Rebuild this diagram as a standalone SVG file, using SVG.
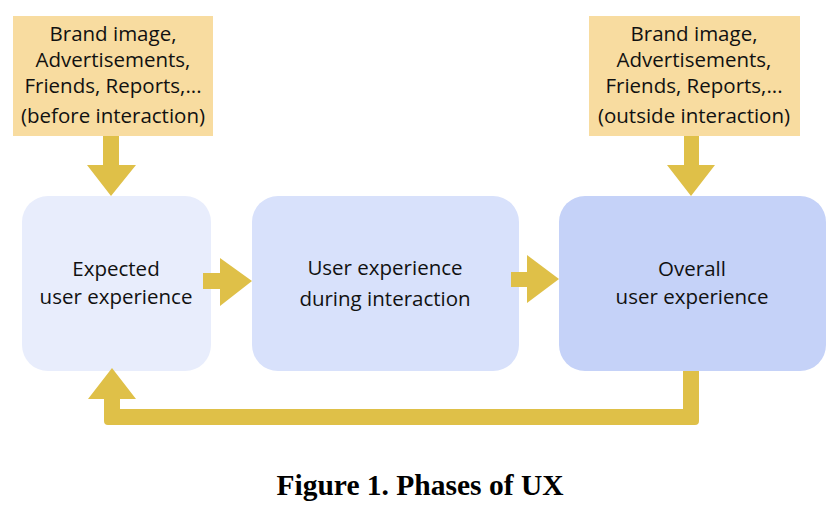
<svg xmlns="http://www.w3.org/2000/svg" width="840" height="512" viewBox="0 0 840 512">
<style>
.src{fill:#f8dca0}
.lbl{font-family:"Open Sans","DejaVu Sans",sans-serif;font-size:20.5px;fill:#111;text-anchor:middle}
.arr{fill:#dfc048}
.cap{font-family:"Liberation Serif",serif;font-weight:bold;font-size:29.5px;fill:#000;text-anchor:middle}
</style>
<rect width="840" height="512" fill="#fff"/>
<g id="src-before">
<rect class="src" x="13" y="16" width="200" height="120"/>
<text class="lbl" x="113" y="41">Brand image,</text>
<text class="lbl" x="113" y="67">Advertisements,</text>
<text class="lbl" x="113" y="93">Friends, Reports,...</text>
<text class="lbl" x="113" y="123">(before interaction)</text>
</g>
<g id="src-outside">
<rect class="src" x="589" y="16" width="211" height="120"/>
<text class="lbl" x="694" y="41">Brand image,</text>
<text class="lbl" x="694" y="67">Advertisements,</text>
<text class="lbl" x="694" y="93">Friends, Reports,...</text>
<text class="lbl" x="694" y="123">(outside interaction)</text>
</g>
<g id="expected">
<rect x="22" y="196" width="189" height="175" rx="26" fill="#e8edfc"/>
<text class="lbl" x="116" y="276">Expected</text>
<text class="lbl" x="116" y="304">user experience</text>
</g>
<g id="during">
<rect x="252" y="196" width="267" height="175" rx="26" fill="#d8e1fb"/>
<text class="lbl" x="385" y="275">User experience</text>
<text class="lbl" x="385" y="306">during interaction</text>
</g>
<g id="overall">
<rect x="559" y="196" width="267" height="175" rx="26" fill="#c5d2f8"/>
<text class="lbl" x="692" y="276">Overall</text>
<text class="lbl" x="692" y="304">user experience</text>
</g>
<g id="connectors">
<polygon class="arr" points="103,136 119,136 119,165 136,165 111,196 87,165 103,165"/>
<polygon class="arr" points="684,136 699,136 699,165 715,165 691,196 667,165 684,165"/>
<polygon class="arr" points="203,273 220,273 220,258 252,281 220,306 220,289 203,289"/>
<polygon class="arr" points="511,272 527,272 527,255 559,279 527,303 527,287 511,287"/>
<path class="arr" d="M683,371 H699 V421 Q699,425 695,425 H108 Q104,425 104,421 V399 H88 L112,368 L136,399 H120 V409 H683 Z"/>
</g>
<text class="cap" x="420" y="495">Figure 1. Phases of UX</text>
</svg>
